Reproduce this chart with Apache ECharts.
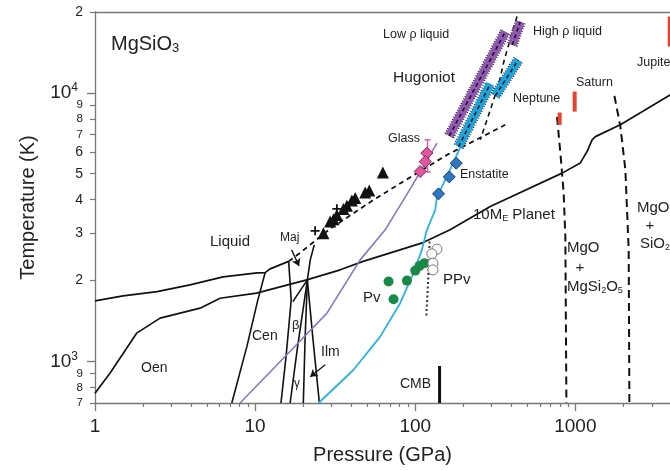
<!DOCTYPE html>
<html>
<head>
<meta charset="utf-8">
<script src="https://cdn.jsdelivr.net/npm/echarts@6/dist/echarts.min.js"></script>
<style>
html, body { margin: 0; padding: 0; background: #fff; }
#chart { width: 670px; height: 471px; }
</style>
</head>
<body>
<div id="chart"></div>
<script>
// pressure in GPa, temperature in K

// 10 Earth-mass planet adiabat
var planetP = [1, 1.24, 1.82, 2.55, 4.53, 6.04, 10.2, 21.0, 34, 47.3, 112, 165, 294, 826, 1074, 1183, 1272, 1334, 1910, 3925];
var planetT = [761, 904, 1274, 1449, 1578, 1718, 1795, 2011, 2193, 2357, 2770, 3090, 3772, 5024, 5483, 6045, 6683, 6871, 7603, 9830];

// melting curve, solid part and dashed extrapolation
var meltP = [1, 1.5, 2.44, 3.92, 6.31, 10.3, 11.55, 12.4, 16.2];
var meltT = [1680, 1754, 1820, 1928, 2064, 2136, 2140, 2211, 2357];
var meltDashP = [16.2, 19.1, 29.4, 54.9, 102.5, 158, 365];
var meltDashT = [2357, 2536, 3116, 3995, 5024, 5875, 7603];

// subsolidus phase boundaries
var oenCenP = [7.15, 8.88, 10.4, 11.55];
var oenCenT = [700, 1135, 1694, 2140];
var cenBetaP = [14.5, 15.6, 16.8, 16.2];
var cenBetaT = [700, 1042, 1694, 2357];
var betaGammaP = [16.55, 18.3, 21.2];
var betaGammaT = [700, 1104, 2011];
var gammaIlmP = [20.0, 20.5, 21.2];
var gammaIlmT = [700, 1202, 2011];
var ilmPvP = [25.2, 23.0, 21.2, 22.1, 23.4];
var ilmPvT = [700, 1202, 2011, 2388, 2716];
var betaTopP = [17.2, 21.2];
var betaTopT = [1670, 2011];

// Hugoniots (glass: purple, enstatite: cyan)
var glassHugP = [8.05, 16.5, 28.1, 45.3, 64.9, 84.5, 104.9, 136.7];
var glassHugT = [700, 1088, 1512, 2388, 3090, 3995, 4950, 6497];
var enstHugP = [24.9, 41.1, 60.4, 80.5, 97.5, 110, 118.3, 133.4, 136.7, 157.8, 196.6];
var enstHugT = [700, 929, 1237, 1647, 2131, 2602, 3090, 3666, 4110, 4879, 6513];

// shock bands
var purpleLowP = [163.1, 365];
var purpleLowT = [6918, 16880];
var purpleHighP = [403.7, 453];
var purpleHighT = [15095, 18385];
var cyanLowP = [186.5, 294];
var cyanLowT = [6310, 10800];
var cyanHighP = [316, 440];
var cyanHighT = [9745, 13270];

// low / high density liquid boundary
var liqBoundP = [432, 359.8, 331.6, 280.5, 254.7];
var liqBoundT = [19230, 13270, 10710, 7930, 6683];

// pv / ppv boundary
var ppvP = [122.9, 120.5, 117.2];
var ppvT = [2794, 2011, 1468];

// dissociation boundaries
var diss1P = [768.6, 806, 845, 866, 879];
var diss1T = [8140, 5977, 4242, 2909, 700];
var diss2P = [1754, 1910, 2053, 2153, 2175];
var diss2T = [9745, 7490, 5168, 2602, 700];

// measurements
var triP = [62.8, 51.6, 48.7, 42.2, 40.2, 37.4, 35.6, 32.4, 30.9, 29.4, 26.7];
var triT = [5050, 4325, 4253, 4055, 3972, 3795, 3690, 3512, 3385, 3317, 3002];
var crossP = [23.7, 32.4];
var crossT = [3063, 3698];
var glassP = [118.2, 115.5, 107.4];
var glassT = [5963, 5547, 5093];
var glassErrP = [119.4, 119.4];
var glassErrT = [5080, 6683];
var enstP = [180.4, 163.1, 139.8];
var enstT = [5471, 4865, 4206];
var pvP = [68.1, 88.8, 73.2, 100, 106.4, 114.3];
var pvT = [1983, 1999, 1705, 2178, 2268, 2322];
var ppvPtsP = [136.7, 127, 129, 129];
var ppvPtsT = [2618, 2515, 2322, 2192];

// planet interiors and core-mantle boundary
var neptuneP = [798, 798];
var neptuneT = [7603, 8446];
var saturnP = [990, 990];
var saturnT = [8512, 10110];
var jupiterP = [3884, 3884];
var jupiterT = [14880, 19230];
var cmbP = [141.9, 141.9];
var cmbT = [700, 962];

// axes
var xMajor = [1, 10, 100, 1000];
var xMinor = [2, 3, 4, 5, 6, 7, 8, 9, 20, 30, 40, 50, 60, 70, 80, 90,
              200, 300, 400, 500, 600, 700, 800, 900, 2000, 3000];
var yMajor = [1000, 10000];
var yMinor = [700, 800, 900, 2000, 3000, 4000, 5000, 6000, 7000, 8000, 9000, 20000];

var FONT = '"Liberation Sans", Arial, sans-serif';
var INK = '#222';
var AXIS = '#777';

function pairs(p, t) {
    return p.map(function (v, i) { return [v, t[i]]; });
}

function curve(p, t, color, width, type) {
    return {
        type: 'line', data: pairs(p, t), symbol: 'none', silent: true,
        lineStyle: { color: color, width: width, type: type || 'solid', cap: 'butt' }
    };
}

function band(p, t, color) {
    return [
        { type: 'line', data: pairs(p, t), symbol: 'none', silent: true, z: 4,
          lineStyle: { color: '#222', width: 11, type: [1, 1.6], cap: 'butt' } },
        { type: 'line', data: pairs(p, t), symbol: 'none', silent: true, z: 5,
          lineStyle: { color: color, width: 8.6, cap: 'butt' } },
        { type: 'line', data: pairs(p, t), symbol: 'none', silent: true, z: 6,
          lineStyle: { color: '#111', width: 1.5, type: [4, 3], cap: 'butt' } }
    ];
}

function dots(p, t, symbol, size, fill, border) {
    return {
        type: 'scatter', data: pairs(p, t), symbol: symbol, symbolSize: size, silent: true, z: 8,
        itemStyle: { color: fill, opacity: 1, borderColor: border || fill, borderWidth: border ? 1 : 0 }
    };
}

function txt(x, y, s, size, align) {
    return {
        type: 'text', x: x, y: y, silent: true, z: 100,
        style: { text: s, fontSize: size, fontFamily: FONT, fill: INK,
                 align: align || 'left', verticalAlign: 'middle' }
    };
}

function richTxt(x, y, s, rich, align) {
    return {
        type: 'text', x: x, y: y, silent: true, z: 100,
        style: { text: s, rich: rich, fontFamily: FONT, fill: INK,
                 align: align || 'left', verticalAlign: 'middle' }
    };
}

var series = [
    curve(planetP, planetT, '#111', 1.7),
    curve(meltP, meltT, '#111', 1.7),
    curve(meltDashP, meltDashT, '#111', 1.8, [5, 4]),
    curve(oenCenP, oenCenT, '#111', 1.6),
    curve(cenBetaP, cenBetaT, '#111', 1.6),
    curve(betaGammaP, betaGammaT, '#111', 1.6),
    curve(gammaIlmP, gammaIlmT, '#111', 1.6),
    curve(ilmPvP, ilmPvT, '#111', 1.6),
    curve(betaTopP, betaTopT, '#111', 1.6),
    curve(glassHugP, glassHugT, '#8a76c6', 1.6),
    curve(enstHugP, enstHugT, '#2ab3e4', 1.8),
    curve(liqBoundP, liqBoundT, '#111', 1.6, [5, 4]),
    curve(ppvP, ppvT, '#333', 2, [2, 2.5]),
    curve(diss1P, diss1T, '#111', 2, [8, 5]),
    curve(diss2P, diss2T, '#111', 2, [8, 5]),
    curve(neptuneP, neptuneT, '#e8412e', 4),
    curve(saturnP, saturnT, '#e8412e', 4),
    curve(jupiterP, jupiterT, '#e8412e', 4),
    curve(cmbP, cmbT, '#111', 3)
];
series = series.concat(band(purpleLowP, purpleLowT, '#9257b3'));
series = series.concat(band(purpleHighP, purpleHighT, '#9257b3'));
series = series.concat(band(cyanLowP, cyanLowT, '#1ea2dc'));
series = series.concat(band(cyanHighP, cyanHighT, '#1ea2dc'));

series.push({
    type: 'line', data: pairs(glassErrP, glassErrT), symbol: 'rect', symbolSize: [6, 1.5],
    showSymbol: true, silent: true, z: 7,
    lineStyle: { color: '#e2589f', width: 1.4 }, itemStyle: { color: '#e2589f' }
});
series.push(dots(triP, triT, 'triangle', 12, '#111'));
series.push(dots(crossP, crossT, 'path://M4,0h2v4h4v2h-4v4h-2v-4h-4v-2h4z', 9, '#111'));
series.push(dots(glassP, glassT, 'diamond', 12, '#e4559f', '#7d2a5c'));
series.push(dots(enstP, enstT, 'diamond', 12, '#2d78c2', '#173f6b'));
series.push(dots(pvP, pvT, 'circle', 10, '#188a48'));
series.push(dots(ppvPtsP, ppvPtsT, 'circle', 10, '#fff', '#777'));

// phase-field arrows
series.push({
    type: 'line', data: [], silent: true,
    markLine: {
        silent: true, symbol: ['none', 'arrow'], symbolSize: 7, label: { show: false },
        lineStyle: { color: '#111', width: 1.3, type: 'solid' },
        data: [
            [{ coord: [16.9, 2602] }, { coord: [18.8, 2268] }],
            [{ coord: [27.4, 971] }, { coord: [22.1, 876] }]
        ]
    }
});

var sub = { fontSize: 9, fontFamily: FONT, padding: [7, 0, 0, 0] };

var option = {
    animation: false,
    backgroundColor: '#fff',
    grid: { left: 95, right: 0, top: 12, bottom: 68, containLabel: false, outerBoundsMode: 'none' },
    xAxis: [{
        type: 'log', min: 1, max: 3900, position: 'bottom',
        name: 'Pressure (GPa)', nameLocation: 'middle', nameGap: 42,
        nameTextStyle: { fontSize: 20, fontFamily: FONT, color: INK },
        axisLine: { lineStyle: { color: AXIS, width: 1.3 } },
        axisTick: { length: 8, customValues: xMajor, lineStyle: { color: AXIS, width: 1.3 } },
        axisLabel: { customValues: xMajor, fontSize: 19, fontFamily: FONT, color: INK, margin: 14,
                     formatter: function (v) { return String(Math.round(v)); } },
        splitLine: { show: false }
    }, {
        type: 'log', min: 1, max: 3900, position: 'bottom',
        axisLine: { show: false },
        axisTick: { length: 4, customValues: xMinor, lineStyle: { color: AXIS, width: 1.2 } },
        axisLabel: { show: false },
        splitLine: { show: false }
    }, {
        type: 'log', min: 1, max: 3900, position: 'top',
        axisLine: { lineStyle: { color: AXIS, width: 1.3 } },
        axisTick: { show: false }, axisLabel: { show: false }, splitLine: { show: false }
    }],
    yAxis: [{
        type: 'log', min: 700, max: 20000, position: 'left',
        name: 'Temperature (K)', nameLocation: 'middle', nameGap: 57, nameRotate: 90,
        nameTextStyle: { fontSize: 20, fontFamily: FONT, color: INK },
        axisLine: { lineStyle: { color: AXIS, width: 1.3 } },
        axisTick: { length: 8, customValues: yMajor, lineStyle: { color: AXIS, width: 1.3 } },
        axisLabel: {
            customValues: yMajor, margin: 17, color: INK,
            formatter: function (v) {
                return '{a|10}{b|' + Math.round(Math.log10(v)) + '}';
            },
            rich: {
                a: { fontSize: 19, fontFamily: FONT, color: INK },
                b: { fontSize: 12, fontFamily: FONT, color: INK, padding: [0, 0, 10, 0] }
            }
        },
        splitLine: { show: false }
    }, {
        type: 'log', min: 700, max: 20000, position: 'left',
        axisLine: { show: false },
        axisTick: { length: 5, customValues: yMinor, lineStyle: { color: AXIS, width: 1.2 } },
        axisLabel: {
            customValues: yMinor, margin: 12, color: INK,
            formatter: function (v) {
                var d = Math.round(v / Math.pow(10, Math.floor(Math.log10(v) + 1e-9)));
                return (d >= 7 ? '{s|' : '{m|') + d + '}';
            },
            rich: {
                s: { fontSize: 11.5, fontFamily: FONT, color: INK },
                m: { fontSize: 14, fontFamily: FONT, color: INK }
            }
        },
        splitLine: { show: false }
    }],
    series: series,
    graphic: [
        richTxt(111, 44, '{a|MgSiO}{b|3}', {
            a: { fontSize: 20, fontFamily: FONT },
            b: { fontSize: 13, fontFamily: FONT, padding: [9, 0, 0, 0] }
        }),
        txt(383, 35, 'Low ρ liquid', 12.5),
        txt(533, 32, 'High ρ liquid', 12.5),
        txt(393, 78, 'Hugoniot', 15.5),
        txt(388, 139, 'Glass', 12.5),
        txt(460, 175, 'Enstatite', 12.5),
        txt(513, 99, 'Neptune', 12.5),
        txt(576, 83, 'Saturn', 12.5),
        txt(637, 63, 'Jupiter', 12.5),
        richTxt(473, 215, '{a|10M}{e|E}{a| Planet}', {
            a: { fontSize: 15, fontFamily: FONT }, e: sub
        }),
        txt(567, 248, 'MgO', 15),
        txt(580, 268, '+', 15, 'center'),
        richTxt(567, 287, '{a|MgSi}{e|2}{a|O}{e|5}', {
            a: { fontSize: 15, fontFamily: FONT }, e: sub
        }),
        txt(637, 208, 'MgO', 15),
        txt(650, 226, '+', 15, 'center'),
        richTxt(640, 244, '{a|SiO}{e|2}', {
            a: { fontSize: 15, fontFamily: FONT }, e: sub
        }),
        txt(210, 242, 'Liquid', 15),
        txt(280, 238, 'Maj', 12),
        txt(252, 336, 'Cen', 14),
        txt(141, 368, 'Oen', 14),
        txt(292, 325, 'β', 13),
        txt(294, 384, 'γ', 12),
        txt(321, 352, 'Ilm', 14),
        txt(363, 298, 'Pv', 15),
        txt(443, 280, 'PPv', 15),
        txt(400, 384, 'CMB', 14)
    ]
};

var chart = echarts.init(document.getElementById('chart'), null, { renderer: 'canvas' });
chart.setOption(option);
</script>
</body>
</html>
